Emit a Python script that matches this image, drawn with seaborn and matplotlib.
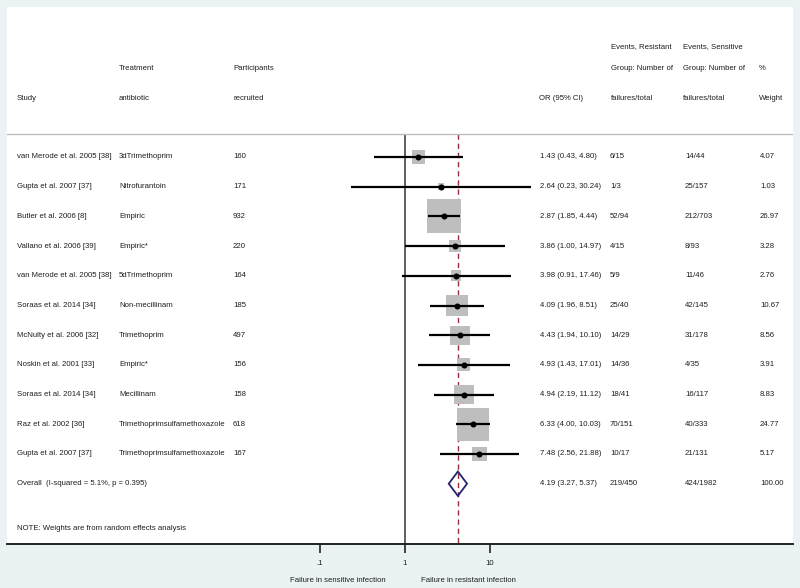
import numpy as np
import pandas as pd
import seaborn as sns
import matplotlib.pyplot as plt

# Study data
studies = ["van Merode et al. 2005 [38]", "Gupta et al. 2007 [37]", "Butler et al. 2006 [8]",
           "Vallano et al. 2006 [39]", "van Merode et al. 2005 [38]", "Soraas et al. 2014 [34]",
           "McNulty et al. 2006 [32]", "Noskin et al. 2001 [33]", "Soraas et al. 2014 [34]",
           "Raz et al. 2002 [36]", "Gupta et al. 2007 [37]"]
treatments = ["3dTrimethoprim", "Nitrofurantoin", "Empiric", "Empiric*", "5dTrimethoprim",
              "Non-mecillinam", "Trimethoprim", "Empiric*", "Mecillinam",
              "Trimethoprimsulfamethoxazole", "Trimethoprimsulfamethoxazole"]
participants = [160, 171, 932, 220, 164, 185, 497, 156, 158, 618, 167]
odds_ratio = [1.43, 2.64, 2.87, 3.86, 3.98, 4.09, 4.43, 4.93, 4.94, 6.33, 7.48]
ci_low = [0.43, 0.23, 1.85, 1.00, 0.91, 1.96, 1.94, 1.43, 2.19, 4.00, 2.56]
ci_high = [4.80, 30.24, 4.44, 14.97, 17.46, 8.51, 10.10, 17.01, 11.12, 10.03, 21.88]
events_resistant = ["6/15", "1/3", "52/94", "4/15", "5/9", "25/40", "14/29", "14/36",
                    "18/41", "70/151", "10/17"]
events_sensitive = ["14/44", "25/157", "212/703", "8/93", "11/46", "42/145", "31/178",
                    "4/35", "16/117", "40/333", "21/131"]
weights = [4.07, 1.03, 26.97, 3.28, 2.76, 10.67, 8.56, 3.91, 8.83, 24.77, 5.17]

overall_label = "Overall  (I-squared = 5.1%, p = 0.395)"
overall_or = 4.19
overall_low = 3.27
overall_high = 5.37
overall_res = "219/450"
overall_sens = "424/1982"
overall_weight = 100.00

x_ticks = [0.1, 1, 10]
x_tick_labels = [".1", "1", "10"]

df = pd.DataFrame({
    "study": studies, "treatment": treatments, "n": participants,
    "or": odds_ratio, "lo": ci_low, "hi": ci_high,
    "res": events_resistant, "sens": events_sensitive, "weight": weights,
})
df["row"] = np.arange(len(df))
overall_row = len(df)

sns.set_style("white")
plt.rcParams['font.family'] = ['Liberation Sans', 'DejaVu Sans']
fs = 5.6
txt_color = "#1e1e1e"

fig = plt.figure(figsize=(8, 5.88), dpi=100)
fig.patch.set_facecolor("#EAF2F3")
W, H = 800, 588
ax = fig.add_axes([7 / W, (H - 544) / H, 786 / W, (544 - 7) / H])
ax.set_facecolor("white")

# log x axis: 1 at px 405, 85 px per decade
ax.set_xscale("log")
ax.set_xlim(10 ** ((7 - 405) / 85), 10 ** ((793 - 405) / 85))
row_px, row_step = 157, 29.7
ax.set_ylim((544 - row_px) / row_step, (7 - row_px) / row_step)

def col(px):
    return (px - 7) / 786

def py(px):
    return (px - row_px) / row_step

rule_y = py(134)

# weight boxes (area proportional to weight)
sns.scatterplot(data=df, x="or", y="row", size="weight", sizes=(0, 2230),
                size_norm=(0, 100), marker="s", color="#BEBEBE", linewidth=0,
                legend=False, ax=ax, zorder=2)
# confidence intervals
ax.hlines(df["row"], df["lo"], df["hi"], color="black", linewidth=1.6, zorder=3)
# point estimates
sns.scatterplot(data=df, x="or", y="row", color="black", s=19, linewidth=0,
                legend=False, ax=ax, zorder=4)

# overall diamond
h = 0.41
ax.fill([overall_low, overall_or, overall_high, overall_or],
        [overall_row, overall_row - h, overall_row, overall_row + h],
        facecolor="none", edgecolor="#22226E", linewidth=1.3, zorder=4)

# reference lines
ax.vlines(1, rule_y, ax.get_ylim()[0], color="#333333", linewidth=1.1, zorder=1)
ax.vlines(overall_or, rule_y, ax.get_ylim()[0], color="#9B2D3B", linewidth=1.0,
          linestyles=(0, (3.8, 2.8)), zorder=1)
ax.axhline(rule_y, color="#BDBDBD", linewidth=1.0, zorder=1)

tr = ax.get_yaxis_transform()

# headers
headers = [
    (17, ["", "", "Study"]),
    (119, ["", "Treatment", "antibiotic"]),
    (233, ["", "Participants", "recruited"]),
    (539, ["", "", "OR (95% CI)"]),
    (611, ["Events, Resistant", "Group: Number of", "failures/total"]),
    (683, ["Events, Sensitive", "Group: Number of", "failures/total"]),
    (759, ["", "%", "Weight"]),
]
header_px = [47, 69, 99]
for xpx, lines in headers:
    for ypx, line in zip(header_px, lines):
        if line:
            ax.text(col(xpx), py(ypx), line, transform=tr, fontsize=fs,
                    va="center", ha="left", color=txt_color)

# table rows
for _, r in df.iterrows():
    y = r["row"]
    ax.text(col(17), y, r["study"], transform=tr, fontsize=fs, va="center", color=txt_color)
    ax.text(col(119), y, r["treatment"], transform=tr, fontsize=fs, va="center", color=txt_color)
    ax.text(col(233), y, str(r["n"]), transform=tr, fontsize=fs, va="center", color=txt_color)
    ax.text(col(540), y, f"{r['or']:.2f} ({r['lo']:.2f}, {r['hi']:.2f})", transform=tr,
            fontsize=fs, va="center", color=txt_color)
    ax.text(col(610), y, r["res"], transform=tr, fontsize=fs, va="center", color=txt_color)
    ax.text(col(685), y, r["sens"], transform=tr, fontsize=fs, va="center", color=txt_color)
    ax.text(col(760), y, f"{r['weight']:.2f}", transform=tr, fontsize=fs, va="center", color=txt_color)

y = overall_row
ax.text(col(17), y, overall_label, transform=tr, fontsize=fs, va="center", color=txt_color)
ax.text(col(540), y, f"{overall_or:.2f} ({overall_low:.2f}, {overall_high:.2f})", transform=tr,
        fontsize=fs, va="center", color=txt_color)
ax.text(col(610), y, overall_res, transform=tr, fontsize=fs, va="center", color=txt_color)
ax.text(col(685), y, overall_sens, transform=tr, fontsize=fs, va="center", color=txt_color)
ax.text(col(760), y, f"{overall_weight:.2f}", transform=tr, fontsize=fs, va="center", color=txt_color)

ax.text(col(17), py(529), "NOTE: Weights are from random effects analysis", transform=tr,
        fontsize=fs, va="center", color=txt_color)

# axes styling
for side in ["top", "left", "right"]:
    ax.spines[side].set_visible(False)
ax.spines["bottom"].set_color("#222222")
ax.spines["bottom"].set_linewidth(1.4)
ax.set_yticks([])
ax.set_xticks(x_ticks)
ax.set_xticklabels(x_tick_labels)
ax.xaxis.set_minor_locator(plt.NullLocator())
ax.tick_params(axis="x", direction="out", length=6.5, width=1.2, color="#222222",
               labelsize=fs, pad=5, labelcolor=txt_color, bottom=True)
ax.set_xlabel("")
ax.set_ylabel("")

fig.text(386 / W, 1 - 580 / H, "Failure in sensitive infection", ha="right", va="center",
         fontsize=fs, color=txt_color)
fig.text(421 / W, 1 - 580 / H, "Failure in resistant infection", ha="left", va="center",
         fontsize=fs, color=txt_color)

fig.savefig("out.png", dpi=100, facecolor=fig.get_facecolor())
